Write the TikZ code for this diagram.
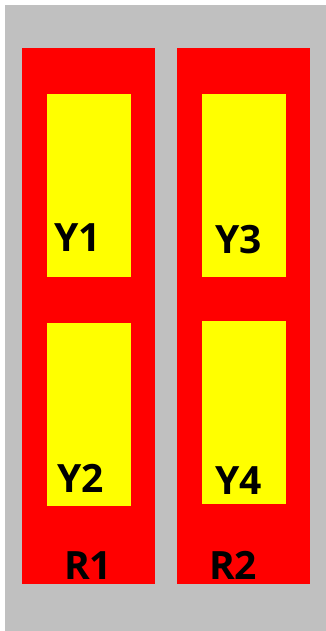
\documentclass[tikz,border=0pt]{standalone}
\usepackage{fontspec}
\setmainfont{Open Sans}
\newfontfamily\lblfont{Open Sans}[UprightFont=*-Bold]
\definecolor{bggray}{HTML}{C0C0C0}
\definecolor{rred}{HTML}{FF0000}
\definecolor{yyel}{HTML}{FFFF00}
\begin{document}
\begin{tikzpicture}[x=1pt,y=1pt,
  redbox/.style={fill=rred,draw=none},
  yelbox/.style={fill=yyel,draw=none},
  lbl/.style={anchor=base west,inner sep=0pt,font=\fontsize{39}{39}\selectfont\bfseries,text=black}]
\useasboundingbox (0,0) rectangle (326,631);
\fill[white] (0,0) rectangle (326,631);
\fill[bggray] (5,0) rectangle (326,626);
\path[redbox] (22,47) rectangle (155,583);
\path[redbox] (177,47) rectangle (310,583);
\path[yelbox] (47,354) rectangle (131,537);
\path[yelbox] (47,125) rectangle (131,308);
\path[yelbox] (202,354) rectangle (286,537);
\path[yelbox] (202,127) rectangle (286,310);
\node[lbl] (y1) at (54,379) {Y1};
\node[lbl] (y2) at (57,138) {Y2};
\node[lbl] (y3) at (215,377) {Y3};
\node[lbl] (y4) at (215,136) {Y4};
\node[lbl] (r1) at (64,51) {R1};
\node[lbl] (r2) at (209,51) {R2};
\end{tikzpicture}
\end{document}
